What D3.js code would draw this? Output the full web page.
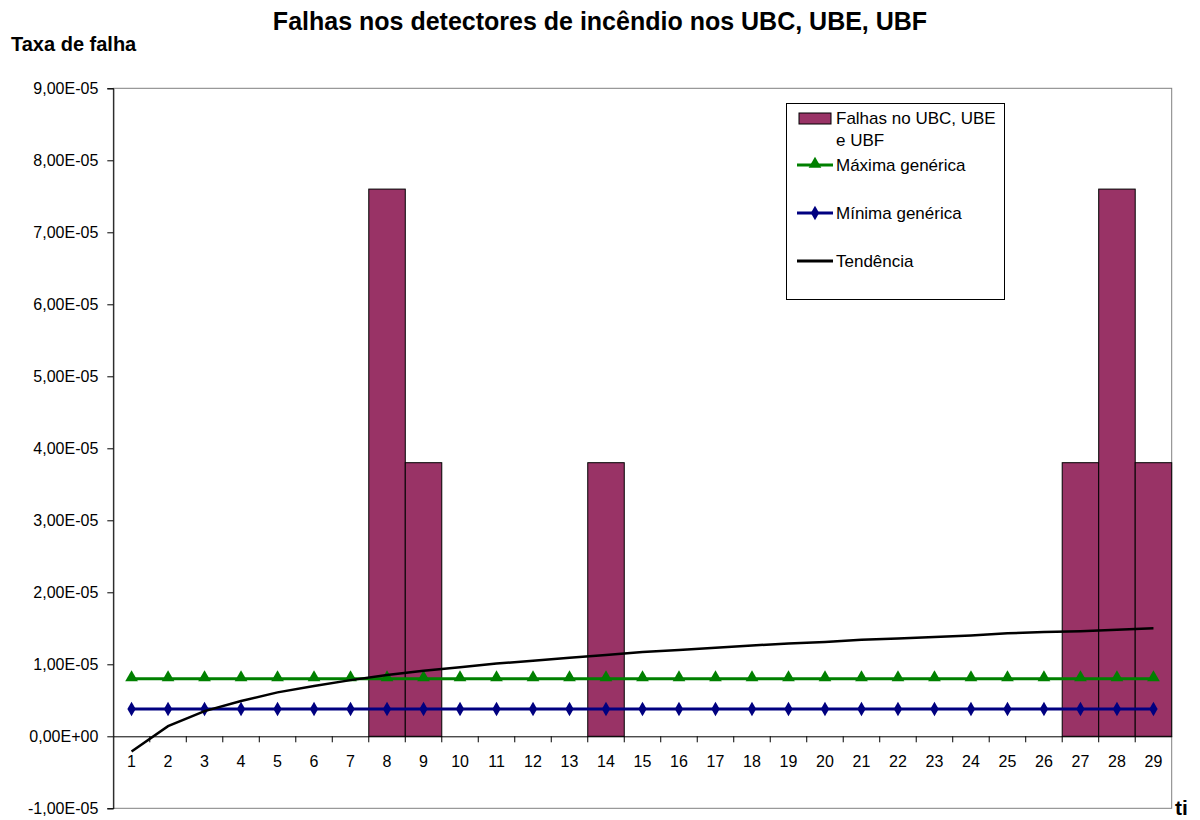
<!DOCTYPE html>
<html>
<head>
<meta charset="utf-8">
<script src="https://cdn.jsdelivr.net/npm/d3@7"></script>
<style>
  body { margin: 0; background: #fff; }
  svg text { font-family: "Liberation Sans", Arial, sans-serif; }
</style>
</head>
<body>
<svg id="chart" width="1200" height="820"></svg>
<script>
// data
const categories = d3.range(1, 30).map(String);
const falhas = [0,0,0,0,0,0,0,7.6e-5,3.8e-5,0,0,0,0,3.8e-5,0,0,0,0,0,0,0,0,0,0,0,0,3.8e-5,7.6e-5,3.8e-5];
const maxima = categories.map(() => 8e-6);
const minima = categories.map(() => 3.8e-6);
const tendencia = [-2.1e-6,1.4e-6,3.5e-6,4.9e-6,6.1e-6,7.0e-6,7.8e-6,8.5e-6,9.1e-6,9.6e-6,
  10.1e-6,10.5e-6,10.9e-6,11.3e-6,11.7e-6,12.0e-6,12.3e-6,12.6e-6,12.9e-6,13.1e-6,
  13.4e-6,13.6e-6,13.8e-6,14.0e-6,14.3e-6,14.5e-6,14.6e-6,14.8e-6,15.0e-6];
const yTicks = d3.range(-1, 10).map(d => d * 1e-5);

let dims = { left: 113.3, right: 1171.7, top: 88.3, bottom: 808.3 };

const svg = d3.select("#chart");

const xScale = d3.scaleBand()
    .domain(categories)
    .range([dims.left, dims.right])
    .padding(0);

const yScale = d3.scaleLinear()
    .domain([-1e-5, 9e-5])
    .range([dims.bottom, dims.top]);

const fmt = v => {
    if (Math.abs(v) < 1e-12) return "0,00E+00";
    let [m, e] = v.toExponential(2).split("e");
    let sign = e[0] === "-" ? "-" : "+";
    let ex = e.replace(/[+-]/, "").padStart(2, "0");
    return m.replace(".", ",") + "E" + sign + ex;
};

// plot area frame (grey)
svg.append("rect")
    .attr("x", dims.left).attr("y", dims.top)
    .attr("width", dims.right - dims.left).attr("height", dims.bottom - dims.top)
    .attr("fill", "none").attr("stroke", "#808080").attr("stroke-width", 1);

// bars
svg.selectAll("rect.bar")
    .data(falhas.map((v, i) => ({ cat: categories[i], v: v })).filter(d => d.v > 0))
    .enter()
    .append("rect")
    .attr("class", "bar")
    .attr("x", d => xScale(d.cat))
    .attr("y", d => yScale(d.v))
    .attr("width", xScale.bandwidth())
    .attr("height", d => yScale(0) - yScale(d.v))
    .attr("fill", "#993366")
    .attr("stroke", "#000")
    .attr("stroke-width", 1);

// y axis
const yAxis = svg.append("g")
    .attr("transform", `translate(${dims.left},0)`)
    .call(d3.axisLeft(yScale).tickValues(yTicks).tickFormat(fmt).tickSize(6).tickPadding(9));
yAxis.select(".domain").attr("stroke", "#000");
yAxis.selectAll("text").attr("font-size", 16).attr("fill", "#000");

// x axis on the zero line
const xAxis = svg.append("g")
    .attr("transform", `translate(0,${yScale(0)})`)
    .call(d3.axisBottom(xScale).tickSize(0).tickPadding(19));
xAxis.select(".domain").attr("stroke", "#000");
xAxis.selectAll("text").attr("font-size", 16).attr("fill", "#000");
// tick marks between categories
svg.append("g").selectAll("line")
    .data(categories.slice(1))
    .enter()
    .append("line")
    .attr("x1", d => xScale(d)).attr("x2", d => xScale(d))
    .attr("y1", yScale(0)).attr("y2", yScale(0) + 6)
    .attr("stroke", "#000");

const xc = d => xScale(d) + xScale.bandwidth() / 2;

// generic max / min lines
const line = d3.line().x(d => xc(d.cat)).y(d => yScale(d.v));
const maxData = maxima.map((v, i) => ({ cat: categories[i], v: v }));
const minData = minima.map((v, i) => ({ cat: categories[i], v: v }));
const trendData = tendencia.map((v, i) => ({ cat: categories[i], v: v }));

svg.append("path").datum(maxData).attr("d", line)
    .attr("fill", "none").attr("stroke", "#008000").attr("stroke-width", 3);
svg.append("path").datum(minData).attr("d", line)
    .attr("fill", "none").attr("stroke", "#000080").attr("stroke-width", 3);

const tri = d3.symbol().type(d3.symbolTriangle).size(70);
const dia = d3.symbol().type(d3.symbolDiamond).size(60);

svg.append("g").selectAll("path")
    .data(maxData).enter().append("path")
    .attr("d", tri)
    .attr("transform", d => `translate(${xc(d.cat)},${yScale(d.v) - 1})`)
    .attr("fill", "#008000");
svg.append("g").selectAll("path")
    .data(minData).enter().append("path")
    .attr("d", dia)
    .attr("transform", d => `translate(${xc(d.cat)},${yScale(d.v)})`)
    .attr("fill", "#000080");

// trend
svg.append("path").datum(trendData).attr("d", line)
    .attr("fill", "none").attr("stroke", "#000").attr("stroke-width", 2.5);

// titles
svg.append("text")
    .attr("x", 600).attr("y", 30)
    .attr("text-anchor", "middle")
    .attr("font-size", 25).attr("font-weight", "bold")
    .text("Falhas nos detectores de incêndio nos UBC, UBE, UBF");
svg.append("text")
    .attr("x", 11).attr("y", 51)
    .attr("font-size", 20).attr("font-weight", "bold")
    .text("Taxa de falha");
svg.append("text")
    .attr("x", 1175).attr("y", 815)
    .attr("font-size", 21).attr("font-weight", "bold")
    .text("ti");

// legend
const legend = svg.append("g");
legend.append("rect")
    .attr("x", 786.5).attr("y", 103.5).attr("width", 218).attr("height", 196)
    .attr("fill", "#fff").attr("stroke", "#000");
legend.append("rect")
    .attr("x", 799).attr("y", 113).attr("width", 32).attr("height", 11)
    .attr("fill", "#993366").attr("stroke", "#000");
const lx1 = 797, lx2 = 833, tx = 836;
const legendLines = [
    { y: 165, color: "#008000", sym: tri, label: "Máxima genérica" },
    { y: 213, color: "#000080", sym: dia, label: "Mínima genérica" },
    { y: 261, color: "#000", sym: null, label: "Tendência" }
];
legend.selectAll("line").data(legendLines).enter().append("line")
    .attr("x1", lx1).attr("x2", lx2).attr("y1", d => d.y).attr("y2", d => d.y)
    .attr("stroke", d => d.color).attr("stroke-width", 3);
legend.selectAll("path").data(legendLines.filter(d => d.sym)).enter().append("path")
    .attr("d", d => d.sym())
    .attr("transform", d => `translate(${(lx1 + lx2) / 2},${d.y - (d.sym === tri ? 1 : 0)})`)
    .attr("fill", d => d.color);
legend.selectAll("text.lab").data(legendLines).enter().append("text")
    .attr("class", "lab")
    .attr("x", tx).attr("y", d => d.y + 6)
    .attr("font-size", 17)
    .text(d => d.label);
legend.append("text").attr("x", tx).attr("y", 124).attr("font-size", 17).text("Falhas no UBC, UBE");
legend.append("text").attr("x", tx).attr("y", 146).attr("font-size", 17).text("e UBF");
</script>
</body>
</html>
